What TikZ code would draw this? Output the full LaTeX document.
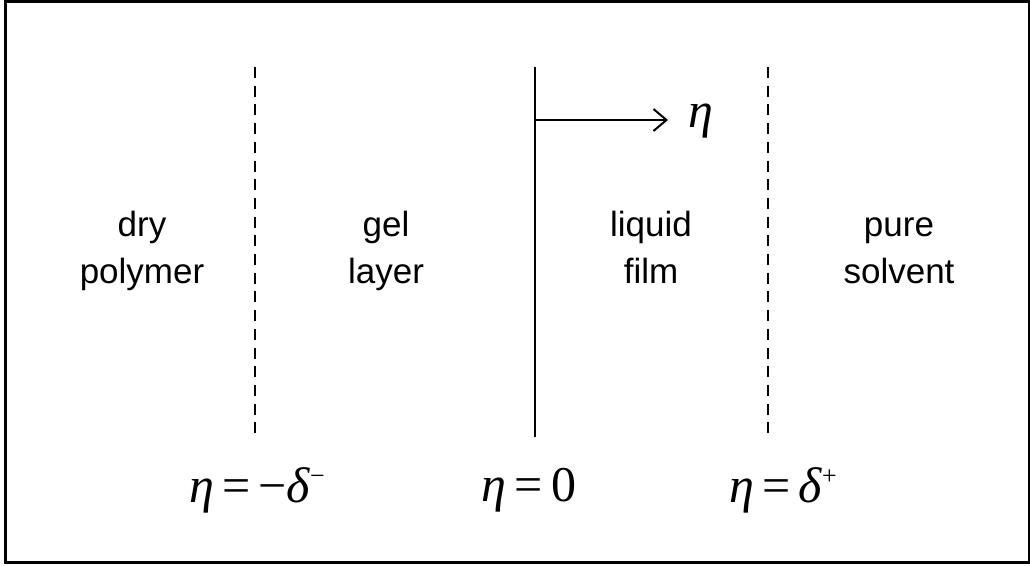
\documentclass[tikz,border=0pt]{standalone}
\usepackage{fontspec}
\setmainfont{Liberation Serif}
\setsansfont{Liberation Sans}
\usetikzlibrary{arrows.meta}
\begin{document}
\begin{tikzpicture}[x=1pt,y=-1pt,
  region/.style={font=\sffamily\fontsize{35}{47}\selectfont, align=center, anchor=base},
  eqlabel/.style={font=\rmfamily\fontsize{50}{54}\selectfont},
  boundary/.style={line width=2.6pt, dash pattern=on 11pt off 7.7pt},
  wall/.style={line width=2.4pt}]
\useasboundingbox (0,0) rectangle (1030,565);
\draw[line width=3pt] (5.5,1) rectangle (1029,562);
% boundaries
\coordinate (l1) at (255,67); \coordinate (l2) at (255,433);
\coordinate (m1) at (535,67); \coordinate (m2) at (535,437);
\coordinate (r1) at (768,67); \coordinate (r2) at (768,433);
\draw[boundary] (l1) -- (l2);
\draw[wall] (m1) -- (m2);
\draw[boundary] (r1) -- (r2);
% axis arrow
\coordinate (a0) at (535,120);
\node[eqlabel, anchor=west, inner sep=0pt] (eta) at (688,121) {\itshape η};
\draw[wall, -{Straight Barb[length=13pt, width=22pt, line width=2pt]}] (a0) -- ([xshift=-20pt]eta.west |- a0);
% region labels
\node[region] (dry) at (142,283) {dry\\polymer};
\node[region] (gel) at (386,283) {gel\\layer};
\node[region] (liq) at (651,283) {liquid\\film};
\node[region] (pure) at (899,283) {pure\\solvent};
% equations
\node[eqlabel] (e1) at (257,490) {\itshape η\,\upshape=\,−\itshape δ\raisebox{0.75ex}{\fontsize{26}{26}\selectfont\upshape −}};
\node[eqlabel] (e2) at (529,490) {\itshape η\,\upshape=\,0};
\node[eqlabel] (e3) at (783,490) {\itshape η\,\upshape=\,\itshape δ\raisebox{0.75ex}{\fontsize{26}{26}\selectfont\upshape +}};
\end{tikzpicture}
\end{document}
